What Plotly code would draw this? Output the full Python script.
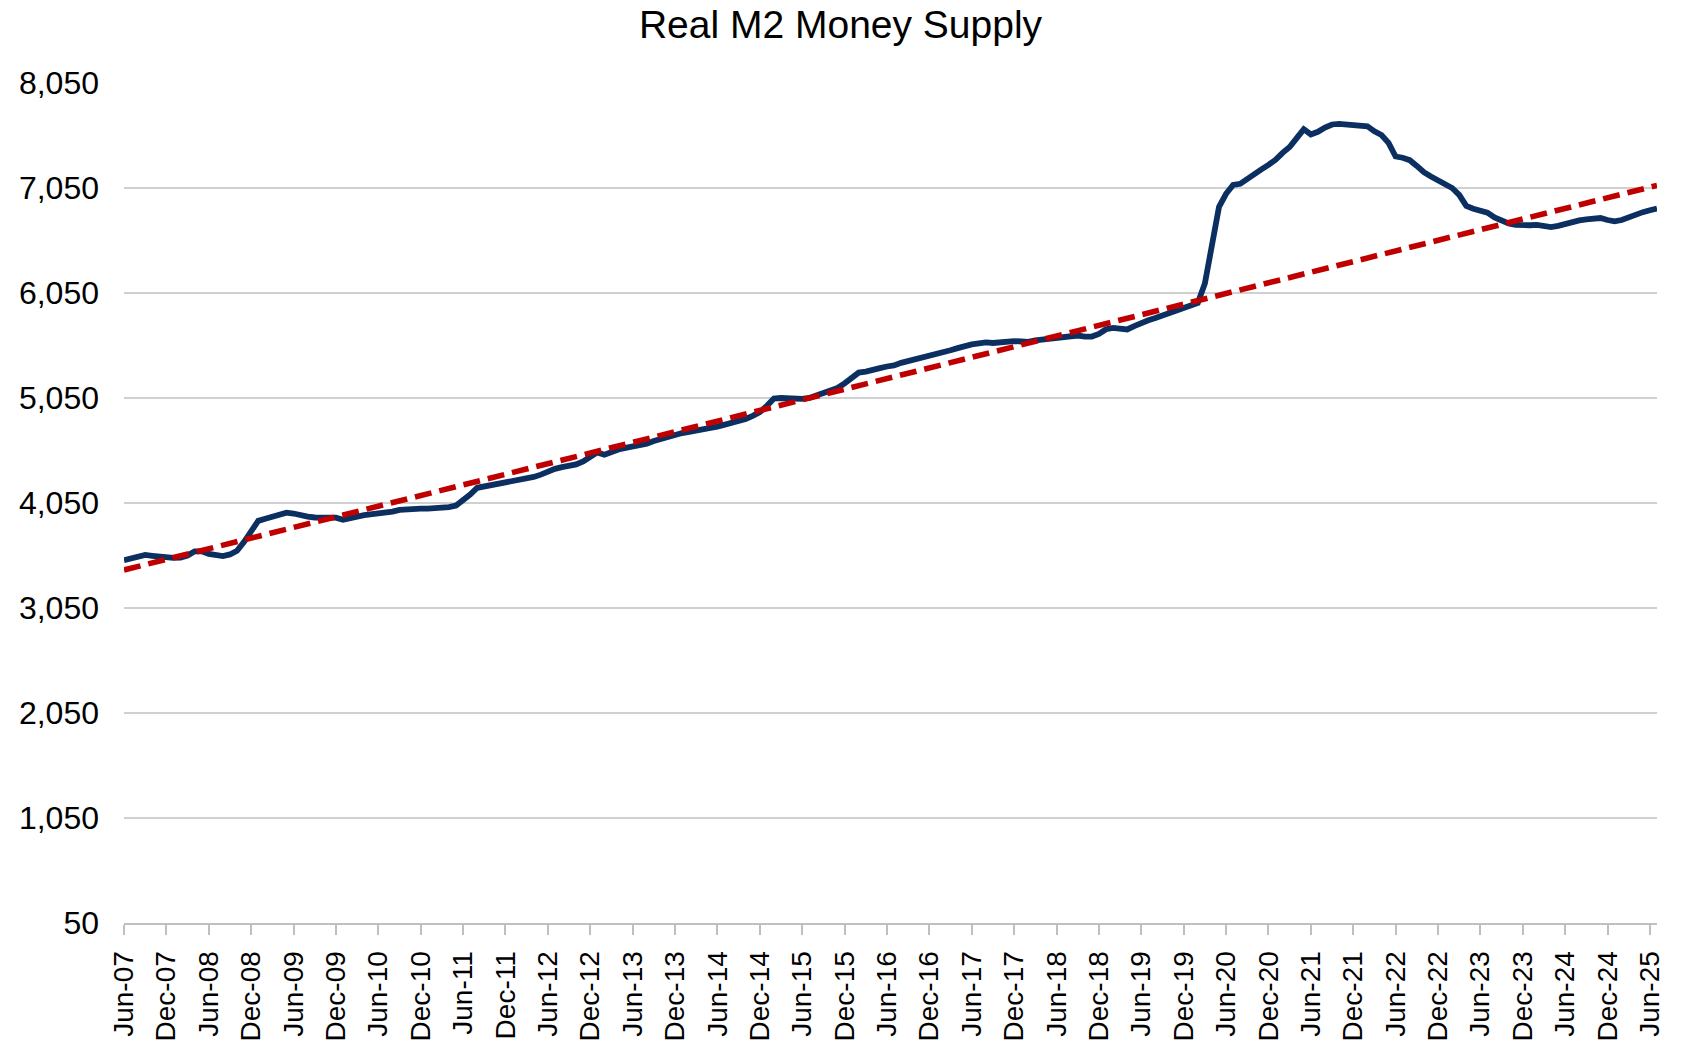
import pandas as pd
import plotly.graph_objects as go

# ---- data ----
start_month = "2007-06-01"
real_m2 = [
    3505, 3520, 3542, 3555, 3547, 3540, 3530, 3527, 3530, 3550,
    3590, 3590, 3565, 3550, 3545, 3560, 3595, 3680, 3790, 3880,
    3900, 3915, 3940, 3958, 3950, 3930, 3920, 3912, 3908, 3905,
    3910, 3890, 3900, 3920, 3935, 3942, 3950, 3960, 3968, 3985,
    3992, 3995, 3996, 3996, 3998, 4003, 4010, 4025, 4075, 4130,
    4195, 4208, 4213, 4225, 4240, 4257, 4275, 4282, 4298, 4320,
    4355, 4375, 4392, 4405, 4417, 4445, 4490, 4532, 4510, 4540,
    4560, 4575, 4585, 4598, 4615, 4640, 4662, 4683, 4700, 4716,
    4728, 4745, 4760, 4765, 4777, 4795, 4812, 4825, 4850, 4880,
    4915, 4975, 5045, 5050, 5045, 5050, 5042, 5050, 5075, 5100,
    5122, 5145, 5190, 5250, 5292, 5302, 5312, 5335, 5350, 5360,
    5385, 5402, 5418, 5438, 5450, 5460, 5476, 5505, 5525, 5545,
    5560, 5570, 5580, 5574, 5580, 5590, 5592, 5588, 5585, 5598,
    5605, 5608, 5615, 5628, 5642, 5645, 5635, 5635, 5660, 5705,
    5718, 5713, 5703, 5735, 5770, 5790, 5812, 5835, 5862, 5890,
    5910, 5928, 5955, 6140, 6540, 6870, 6995, 7080, 7090, 7140,
    7185, 7228, 7270, 7318, 7385, 7440, 7525, 7610, 7560, 7585,
    7625, 7655, 7660, 7655, 7652, 7648, 7638, 7590, 7555, 7480,
    7350, 7338, 7315, 7260, 7200, 7160, 7120, 7082, 7050, 6985,
    6880, 6852, 6838, 6815, 6770, 6735, 6712, 6698, 6692, 6695,
    6698, 6692, 6678, 6690, 6712, 6728, 6742, 6752, 6758, 6764,
    6745, 6732, 6745, 6775, 6800, 6820, 6838, 6855,
]
trend_start = 3412
trend_end = 7075
y_ticks = [50, 1050, 2050, 3050, 4050, 5050, 6050, 7050, 8050]
label_step = 6

months = list(pd.date_range(start_month, periods=len(real_m2), freq="MS").strftime("%b-%y"))
tick_labels = months[::label_step]

FONT = "Liberation Sans, Arial, sans-serif"
BLUE = "#0B2F60"
RED = "#C00000"
GRID = "#D0D0D0"

fig = go.Figure()
fig.add_trace(go.Scatter(
    x=months, y=real_m2, mode="lines",
    line=dict(color=BLUE, width=5.8), name="Real M2", showlegend=False,
))
fig.add_trace(go.Scatter(
    x=[months[0], months[-1]], y=[trend_start, trend_end], mode="lines",
    line=dict(color=RED, width=5.6, dash="17px,8px"), name="Trend", showlegend=False,
))

fig.update_layout(
    width=1681, height=1041,
    margin=dict(l=124, r=24, t=83, b=118, autoexpand=False),
    paper_bgcolor="white", plot_bgcolor="white",
    font=dict(family=FONT, color="#000000"),
    title=dict(text="Real M2 Money Supply", x=0.5, xref="container", xanchor="center",
               y=1 - 24 / 1041, yref="container", yanchor="middle",
               font=dict(size=39, family=FONT, color="#000000")),
)
fig.update_xaxes(
    type="category", range=[0, len(real_m2) - 1],
    tickmode="array", tickvals=tick_labels, ticktext=tick_labels,
    tickangle=-90, tickfont=dict(size=28, family=FONT, color="#000000"),
    ticks="outside", ticklen=10, tickwidth=2, tickcolor="#BFBFBF",
    showline=True, linecolor="#BFBFBF", linewidth=2,
    showgrid=False, automargin=False, ticklabelstandoff=5,
)
fig.update_yaxes(
    range=[50, 8050], tickmode="array", tickvals=y_ticks, tickformat=",d",
    tickfont=dict(size=32, family=FONT, color="#000000"),
    showgrid=True, gridcolor=GRID, gridwidth=2, zeroline=False,
    showline=False, ticks="", automargin=False, ticklabelstandoff=24,
)

fig.write_html(
    "out.html",
    config={"displayModeBar": False},
    post_script="document.body.style.margin='0';document.body.style.overflow='hidden';",
)
